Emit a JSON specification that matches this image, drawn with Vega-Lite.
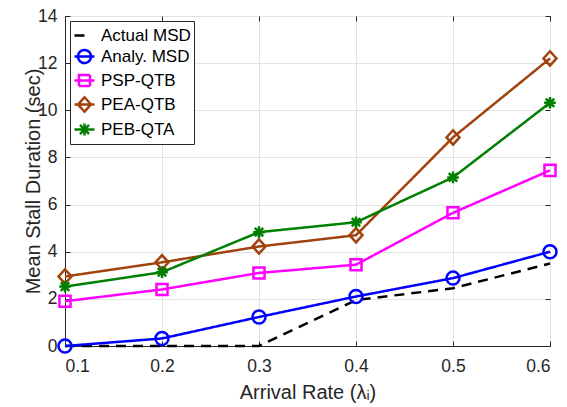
{
  "$schema": "https://vega.github.io/schema/vega-lite/v6.json",
  "width": 485,
  "height": 330,
  "autosize": "none",
  "padding": {"left": 65, "top": 16, "right": 17, "bottom": 61},
  "config": {
    "font": "Liberation Sans",
    "view": {"stroke": "#262626", "strokeWidth": 1},
    "axis": {
      "domainColor": "#262626",
      "tickColor": "#262626",
      "labelColor": "#262626",
      "titleColor": "#262626",
      "labelFontSize": 17.5,
      "titleFontSize": 20,
      "titleFontWeight": "normal",
      "gridColor": "#E3E3E3",
      "gridWidth": 1
    }
  },
  "data": {
    "values": [
      {"x": 0.1, "y": 0, "series": "Actual MSD"},
      {"x": 0.2, "y": 0, "series": "Actual MSD"},
      {"x": 0.3, "y": 0, "series": "Actual MSD"},
      {"x": 0.4, "y": 1.95, "series": "Actual MSD"},
      {"x": 0.5, "y": 2.45, "series": "Actual MSD"},
      {"x": 0.6, "y": 3.5, "series": "Actual MSD"},
      {"x": 0.1, "y": 0, "series": "Analy. MSD"},
      {"x": 0.2, "y": 0.32, "series": "Analy. MSD"},
      {"x": 0.3, "y": 1.23, "series": "Analy. MSD"},
      {"x": 0.4, "y": 2.1, "series": "Analy. MSD"},
      {"x": 0.5, "y": 2.88, "series": "Analy. MSD"},
      {"x": 0.6, "y": 4.0, "series": "Analy. MSD"},
      {"x": 0.1, "y": 1.9, "series": "PSP-QTB"},
      {"x": 0.2, "y": 2.4, "series": "PSP-QTB"},
      {"x": 0.3, "y": 3.1, "series": "PSP-QTB"},
      {"x": 0.4, "y": 3.45, "series": "PSP-QTB"},
      {"x": 0.5, "y": 5.65, "series": "PSP-QTB"},
      {"x": 0.6, "y": 7.45, "series": "PSP-QTB"},
      {"x": 0.1, "y": 2.95, "series": "PEA-QTB"},
      {"x": 0.2, "y": 3.55, "series": "PEA-QTB"},
      {"x": 0.3, "y": 4.22, "series": "PEA-QTB"},
      {"x": 0.4, "y": 4.7, "series": "PEA-QTB"},
      {"x": 0.5, "y": 8.85, "series": "PEA-QTB"},
      {"x": 0.6, "y": 12.2, "series": "PEA-QTB"},
      {"x": 0.1, "y": 2.52, "series": "PEB-QTA"},
      {"x": 0.2, "y": 3.13, "series": "PEB-QTA"},
      {"x": 0.3, "y": 4.83, "series": "PEB-QTA"},
      {"x": 0.4, "y": 5.25, "series": "PEB-QTA"},
      {"x": 0.5, "y": 7.15, "series": "PEB-QTA"},
      {"x": 0.6, "y": 10.32, "series": "PEB-QTA"}
    ]
  },
  "layer": [
    {
      "mark": {"type": "line", "strokeWidth": 2.5},
      "encoding": {
        "x": {
          "field": "x", "type": "quantitative",
          "scale": {"domain": [0.1, 0.6], "nice": false, "zero": false},
          "axis": {
            "values": [0.1, 0.2, 0.3, 0.4, 0.5, 0.6],
            "format": ".1f",
            "tickSize": -5,
            "labelPadding": 16,
            "title": "Arrival Rate (λᵢ)",
            "titleY": 52,
            "titleBaseline": "alphabetic"
          }
        },
        "y": {
          "field": "y", "type": "quantitative",
          "scale": {"domain": [0, 14], "nice": false},
          "axis": {
            "values": [0, 2, 4, 6, 8, 10, 12, 14],
            "format": "d",
            "tickSize": -5,
            "labelPadding": 13,
            "title": "Mean Stall Duration (sec)",
            "titleX": -22,
            "titleY": 165,
            "titleAngle": -90,
            "titleBaseline": "bottom",
            "titleAlign": "center"
          }
        },
        "color": {
          "field": "series", "type": "nominal",
          "scale": {
            "domain": ["Actual MSD", "Analy. MSD", "PSP-QTB", "PEA-QTB", "PEB-QTA"],
            "range": ["#000000", "#0000FF", "#FF00FF", "#A2420D", "#007F00"]
          },
          "legend": {
            "orient": "none",
            "legendX": 5,
            "legendY": 5,
            "title": null,
            "padding": 3,
            "rowPadding": 1,
            "labelFontSize": 17,
            "labelColor": "#000000",
            "labelOffset": 5,
            "labelLimit": 200,
            "symbolSize": 400,
            "symbolStrokeWidth": 2.5,
            "strokeColor": "#262626",
            "fillColor": "white",
            "encode": {
              "symbols": {
                "update": {
                  "shape": {"signal": "datum.value === 'Actual MSD' ? 'M-1,0H0.2' : datum.value === 'Analy. MSD' ? 'M-1,0H1M0.65,0A0.65,0.65 0 1 1 -0.65,0A0.65,0.65 0 1 1 0.65,0' : datum.value === 'PSP-QTB' ? 'M-1,0H1M-0.55,-0.55H0.55V0.55H-0.55Z' : datum.value === 'PEA-QTB' ? 'M-1,0H1M0,-0.72L0.65,0L0,0.72L-0.65,0Z' : 'M-1,0H1M-0.6,0H0.6M0,-0.6V0.6M-0.45,-0.45L0.45,0.45M-0.45,0.45L0.45,-0.45'"},
                  "fill": {"value": "transparent"}
                }
              }
            }
          }
        },
        "strokeDash": {
          "field": "series", "type": "nominal",
          "scale": {
            "domain": ["Actual MSD", "Analy. MSD", "PSP-QTB", "PEA-QTB", "PEB-QTA"],
            "range": [[10, 7], [1, 0], [1, 0], [1, 0], [1, 0]]
          },
          "legend": null
        }
      }
    },
    {
      "transform": [{"filter": "datum.series !== 'Actual MSD'"}],
      "mark": {"type": "point", "filled": false, "strokeWidth": 2.5, "size": 169, "opacity": 1},
      "encoding": {
        "x": {
          "field": "x", "type": "quantitative",
          "scale": {"domain": [0.1, 0.6], "nice": false, "zero": false},
          "axis": {"orient": "top", "values": [0.1, 0.2, 0.3, 0.4, 0.5, 0.6], "labels": false, "grid": false, "domain": false, "tickSize": -5, "title": null}
        },
        "y": {
          "field": "y", "type": "quantitative",
          "scale": {"domain": [0, 14], "nice": false},
          "axis": {"orient": "right", "values": [0, 2, 4, 6, 8, 10, 12, 14], "labels": false, "grid": false, "domain": false, "tickSize": -5, "title": null}
        },
        "stroke": {
          "field": "series", "type": "nominal",
          "scale": {
            "domain": ["Analy. MSD", "PSP-QTB", "PEA-QTB", "PEB-QTA"],
            "range": ["#0000FF", "#FF00FF", "#A2420D", "#007F00"]
          },
          "legend": null
        },
        "shape": {
          "field": "series", "type": "nominal",
          "scale": {
            "domain": ["Analy. MSD", "PSP-QTB", "PEA-QTB", "PEB-QTA"],
            "range": [
              "M1,0A1,1 0 1 1 -1,0A1,1 0 1 1 1,0",
              "M-0.85,-0.85H0.85V0.85H-0.85Z",
              "M0,-1.1L1,0L0,1.1L-1,0Z",
              "M-0.9,0H0.9M0,-0.9V0.9M-0.65,-0.65L0.65,0.65M-0.65,0.65L0.65,-0.65"
            ]
          },
          "legend": null
        }
      }
    }
  ],
  "resolve": {"axis": {"x": "independent", "y": "independent"}}
}
